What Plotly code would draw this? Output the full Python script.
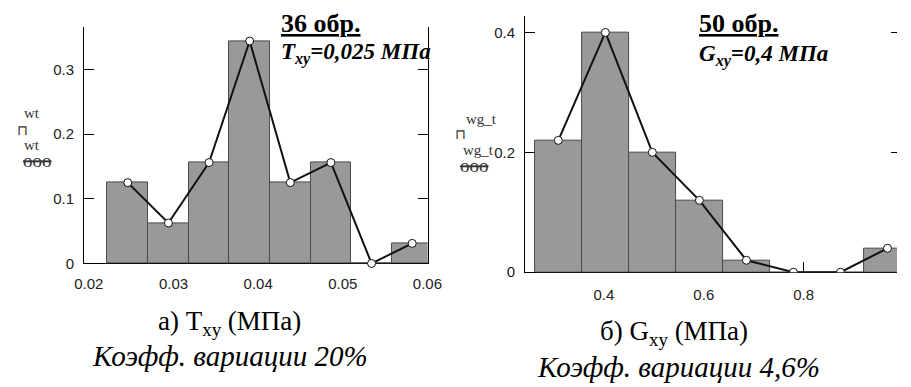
import plotly.graph_objects as go

W, H = 911, 387

# ---- data ----
t_centers = [0.0246, 0.0294, 0.0342, 0.0390, 0.0438, 0.0486, 0.0534, 0.0582]
t_freq = [0.125, 0.0625, 0.156, 0.344, 0.125, 0.156, 0.0, 0.031]
t_width = 0.0048
t_yticks = [0, 0.1, 0.2, 0.3]
t_yticklabels = ["0", "0.1", "0.2", "0.3"]
t_xticks = [0.02, 0.03, 0.04, 0.05, 0.06]
t_xticklabels = ["0.02", "0.03", "0.04", "0.05", "0.06"]

g_centers = [0.3086, 0.4028, 0.4970, 0.5912, 0.6854, 0.7796, 0.8738, 0.9680]
g_freq = [0.22, 0.40, 0.20, 0.12, 0.02, 0.0, 0.0, 0.04]
g_width = 0.0942
g_yticks = [0, 0.2, 0.4]
g_yticklabels = ["0", "0.2", "0.4"]
g_xticks = [0.4, 0.6, 0.8]
g_xticklabels = ["0.4", "0.6", "0.8"]

BAR_FILL = "#999999"
BAR_EDGE = "#4a4a4a"
TICKFONT = dict(family="Liberation Sans, Arial", size=15, color="#222")
SERIF = "Liberation Serif, Times New Roman"

def px(x):
    return x / W

def py(y):
    return 1 - y / H

fig = go.Figure()

# left chart
fig.add_trace(go.Bar(x=t_centers, y=t_freq, width=t_width,
                     marker=dict(color=BAR_FILL, line=dict(color=BAR_EDGE, width=1)),
                     xaxis="x", yaxis="y", showlegend=False))
fig.add_trace(go.Scatter(x=t_centers, y=t_freq, mode="lines+markers",
                         line=dict(color="#111", width=2),
                         marker=dict(symbol="circle", size=8, color="white",
                                     line=dict(color="#111", width=1)),
                         xaxis="x", yaxis="y", showlegend=False, cliponaxis=False))

# right chart
fig.add_trace(go.Bar(x=g_centers, y=g_freq, width=g_width,
                     marker=dict(color=BAR_FILL, line=dict(color=BAR_EDGE, width=1)),
                     xaxis="x2", yaxis="y2", showlegend=False))
fig.add_trace(go.Scatter(x=g_centers, y=g_freq, mode="lines+markers",
                         line=dict(color="#111", width=2),
                         marker=dict(symbol="circle", size=8, color="white",
                                     line=dict(color="#111", width=1)),
                         xaxis="x2", yaxis="y2", showlegend=False))
# carrier for right-edge tick axis
fig.add_trace(go.Scatter(x=[None], y=[None], xaxis="x2", yaxis="y3",
                         showlegend=False, hoverinfo="skip"))

axis_common = dict(showgrid=False, zeroline=False, showline=True,
                   linecolor="black", linewidth=1, tickfont=TICKFONT,
                   tickcolor="black", ticklen=10)

fig.update_layout(
    width=W, height=H,
    margin=dict(l=0, r=0, t=0, b=0),
    paper_bgcolor="white", plot_bgcolor="rgba(0,0,0,0)",
    bargap=0,
    xaxis=dict(**axis_common, domain=[px(76), px(429)], range=[0.01943, 0.06003],
               tickvals=t_xticks, ticktext=t_xticklabels, ticks="",
               anchor="y", layer="below traces", ticklabelstandoff=7),
    yaxis=dict(**axis_common, domain=[py(269), py(28)], range=[0, 0.365],
               tickvals=t_yticks, ticktext=t_yticklabels, ticks="inside",
               mirror="ticks", anchor="x", layer="below traces",
               ticklabelstandoff=6),
    xaxis2=dict(**axis_common, domain=[px(529), 1.0], range=[0.242, 0.987],
                tickvals=g_xticks, ticktext=g_xticklabels, ticks="inside",
                anchor="y2", layer="below traces", ticklabelstandoff=9),
    yaxis2=dict(**axis_common, domain=[py(278), py(16)], range=[0, 0.428],
                tickvals=g_yticks, ticktext=g_yticklabels, ticks="inside",
                anchor="x2", layer="below traces", ticklabelstandoff=6),
    yaxis3=dict(overlaying="y2", side="right", anchor="free", position=1.0,
                range=[0, 0.428], tickvals=g_yticks, showticklabels=False,
                ticks="inside", ticklen=6, tickcolor="black", showline=False,
                showgrid=False, zeroline=False),
)

ann = []
def add(text, x, y, size, xanchor="left", color="black", family=SERIF):
    ann.append(dict(text=text, x=px(x), y=py(y), xref="paper", yref="paper",
                    xanchor=xanchor, yanchor="middle", showarrow=False,
                    font=dict(family=family, size=size, color=color)))

# top labels
add("<b><u>36 обр.</u></b>", 276, 24, 26)
add("<b><i>T<sub>xy</sub>=0,025 МПа</i></b>", 276, 55, 23)
add("<b><u>50 обр.</u></b>", 706, 24, 26)
add("<b><i>G<sub>xy</sub>=0,4 МПа</i></b>", 706, 57, 23)

# captions
add("а) T<sub>xy</sub> (МПа)", 225, 330, 27, xanchor="center")
add("<i>Коэфф. вариации 20%</i>", 226, 364, 29, xanchor="center")
add("б) G<sub>xy</sub> (МПа)", 682, 340, 27, xanchor="center")
add("<i>Коэфф. вариации 4,6%</i>", 687, 375, 29, xanchor="center")

# mathcad-style trace labels
add("wt", 23, 115, 15, xanchor="center", color="#333")
add("⊓", 13, 133, 14, xanchor="center", color="#333")
add("wt", 23, 148, 15, xanchor="center", color="#333")
add("<s>ooo</s>", 28, 164, 19, xanchor="center", color="#333")

add("wg_t", 484, 122, 15, xanchor="center", color="#333")
add("⊓", 463, 137, 14, xanchor="center", color="#333")
add("wg_t", 481, 153, 15, xanchor="center", color="#333")
add("<s>ooo</s>", 477, 169, 19, xanchor="center", color="#333")

fig.update_layout(annotations=ann)

fig.write_html("out.html", config={"displayModeBar": False})
